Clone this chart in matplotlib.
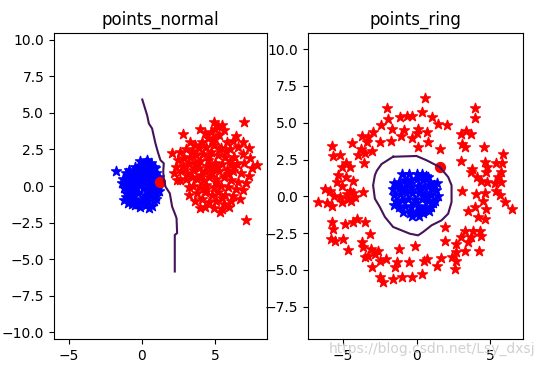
#svm decision boundary plots
import numpy as np
import matplotlib.pyplot as plt

#points_normal data
blue_normal_x = [-1.79, 0.37, 0.2, 0.5, -0.1, 0.8, 0.93, -0.5, -0.89, -0.3, 0.1, 0.6, 1.0, -1.1, -0.7, -0.2, 0.3,
                 0.75, 1.15, -1.3, -0.9, -0.5, 0.0, 0.45, 0.9, 1.27, -1.34, -1.0, -0.6, -0.2, 0.2, 0.6, 1.1, -1.25,
                 -0.85, -0.4, 0.05, 0.4, 0.85, 1.2, -1.1, -0.7, -0.25, 0.2, 0.6, 1.0, -1.23, -0.9, -0.45, 0.0, 0.4,
                 0.85, -0.7, -0.2, 0.25, 0.48, 0.7, -0.1, -0.95, 0.1, -0.55, 0.3, -0.15, 0.6, 1.05, -1.05,
                 -0.62, 0.14, 0.72, -0.33, 0.52, -0.78, 0.97, -1.16, 0.27, -0.46, 0.83, -0.05, -0.92, 0.41]
blue_normal_y = [1.04, 1.77, 1.6, 1.5, 1.4, 1.3, 1.2, 1.3, 1.09, 1.1, 1.2, 1.0, 0.9, 0.9, 0.8, 0.85, 0.8,
                 0.7, 0.6, 0.5, 0.5, 0.55, 0.5, 0.45, 0.35, 0.29, 0.2, 0.15, 0.2, 0.15, 0.2, 0.1, 0.0, -0.15,
                 -0.2, -0.1, -0.15, -0.25, -0.3, -0.35, -0.5, -0.55, -0.5, -0.6, -0.65, -0.7, -0.95, -0.85, -0.9, -0.95, -1.0,
                 -1.05, -1.2, -1.25, -1.3, -1.52, -1.35, -1.45, -1.15, -1.0, -0.35, 0.55, 1.7, 1.55, -0.2, -0.75,
                 0.97, 0.93, 0.42, 0.33, -0.43, -0.02, -0.88, 0.31, -0.82, -1.32, 0.64, 0.12, 0.71, 1.12]

red_normal_x = [7.0, 4.91, 5.2, 3.96, 2.82, 4.7, 5.3, 4.5, 5.0, 5.8, 6.2, 4.1, 3.6, 7.14, 3.21, 5.93, 4.34, 5.37,
                7.87, 2.18, 2.37, 2.07, 2.6, 3.0, 3.4, 3.9, 4.4, 4.9, 5.4, 6.0, 6.6, 7.3, 6.9, 2.5, 2.9, 3.3, 3.7,
                4.2, 4.7, 5.2, 5.7, 6.3, 7.4, 7.0, 2.3, 2.8, 3.2, 3.6, 4.0, 4.5, 5.0, 5.5, 6.0, 6.5, 7.5, 2.7, 3.1,
                3.5, 3.9, 4.3, 4.8, 5.3, 5.8, 6.2, 6.8, 7.3, 2.6, 3.0, 3.4, 3.8, 4.2, 4.6, 5.1, 5.6, 6.1, 6.6, 7.1,
                3.5, 4.0, 4.4, 4.9, 5.4, 5.9, 6.4, 6.9, 3.8, 4.3, 4.8, 5.2, 5.7, 6.2, 3.6, 4.1, 4.6, 5.1, 5.6, 6.1,
                4.9, 5.5, 3.2, 6.7, 4.0, 5.0, 5.6, 4.3, 6.4, 6.9, 3.3, 5.5, 4.8, 5.3, 4.5, 6.3, 5.9,
                4.62, 5.15, 4.05, 5.72, 4.38, 5.04, 3.74, 6.08, 4.77, 5.46]
red_normal_y = [4.38, 4.38, 4.1, 3.93, 3.54, 3.7, 3.5, 3.3, 3.2, 3.0, 3.1, 3.0, 2.8, -2.32, -0.07, -1.41, -1.41, -1.75,
                1.43, 0.86, 0.41, 2.23, 2.3, 2.5, 2.4, 2.6, 2.7, 2.8, 2.6, 2.5, 2.7, 2.6, 2.2, 1.8, 1.9, 2.0, 2.1,
                2.2, 2.3, 2.1, 2.0, 2.0, 1.9, 1.6, 1.3, 1.4, 1.5, 1.6, 1.7, 1.8, 1.6, 1.5, 1.7, 1.5, 1.2, 1.0, 0.9,
                1.1, 1.2, 1.0, 1.2, 1.0, 1.1, 1.0, 0.9, 0.7, 0.4, 0.5, 0.6, 0.5, 0.4, 0.6, 0.5, 0.6, 0.4, 0.3, 0.2,
                0.0, -0.1, 0.1, -0.05, 0.0, -0.1, -0.2, -0.3, -0.5, -0.4, -0.6, -0.4, -0.6, -0.7, -1.0, -0.9, -1.1, -1.0, -1.2, -1.0,
                -1.5, -1.6, -0.6, -0.9, -1.5, 3.9, 3.8, 3.6, 3.4, 3.0, 3.0, 4.2, 0.9, 2.5, 1.4, 1.3, 0.8,
                2.02, 1.33, 0.78, 2.36, -0.22, 0.28, 1.42, 1.52, 3.05, -0.85]

#decision boundary for points_normal
line_normal_x = [0.03, 0.36, 0.48, 0.7, 0.93, 1.1, 1.27, 1.5, 1.46, 1.5, 1.62, 1.91, 2.07, 2.3, 2.37, 2.41, 2.25, 2.25, 2.25]
line_normal_y = [5.91, 4.84, 4.27, 3.93, 2.91, 2.3, 1.77, 1.55, 0.98, 0.5, -0.05, -0.5, -1.41, -2.0, -2.2, -3.22, -3.34, -4.93, -5.84]
new_normal = [1.27, 0.29]

#points_ring data
blue_ring_x = [-1.02, -0.5, 0.0, 0.4, 0.8, -1.5, -1.2, -0.8, -0.4, 0.0, 0.45, 0.9, 1.2, -1.6, -1.2, -0.8, -0.35, 0.1,
               0.5, 0.95, 1.35, -1.5, -1.1, -0.7, -0.3, 0.15, 0.6, 1.0, 1.45, -1.4, -1.0, -0.55, -0.1, 0.35, 0.8,
               1.25, -1.2, -0.8, -0.35, 0.1, 0.55, 1.0, -0.9, -0.45, 0.0, 0.45, 0.85, -0.3, 0.2, 1.4, -1.5, 0.65,
               -0.62, 0.27, 0.78, -0.18, 0.52, -0.95, 1.12, 0.33, -0.42, 0.93]
blue_ring_y = [1.54, 1.5, 1.55, 1.5, 1.3, 0.9, 1.0, 1.1, 1.1, 1.15, 1.1, 1.0, 0.8, 0.5, 0.55, 0.6, 0.65, 0.7,
               0.6, 0.55, 0.45, 0.1, 0.15, 0.2, 0.2, 0.25, 0.15, 0.1, 0.0, -0.3, -0.25, -0.2, -0.25, -0.2, -0.3,
               -0.35, -0.7, -0.65, -0.7, -0.65, -0.75, -0.7, -1.05, -1.1, -1.1, -1.15, -1.0, -1.35, -1.35, 0.9, -0.6, 1.35,
               0.88, 0.43, -0.05, -0.48, -0.95, 0.38, -0.48, -0.92, 0.41, 0.77]

red_ring_x = [0.57, -2.01, 4.0, 3.96, 0.34, -1.92, -1.09, -0.68, -0.34, 1.02, 1.43, 2.1, -2.42, -2.94, -1.7, -0.84,
              0.11, 0.68, 0.0, -1.06, -0.34, 0.75, 0.07, -1.74, -2.49, -3.28, -3.73, -3.39, -4.37, -3.8, -3.0, -3.5,
              -3.96, -5.77, -5.2, -5.66, -4.8, -4.52, -5.05, -3.55, -5.32, -4.82, -4.3, -5.43, -5.09, -6.22, -5.86,
              -4.52, -4.75, -4.3, -3.62, -5.59, -5.2, -4.64, -4.19, -6.72, -6.11, -5.77, -5.09, -4.46,
              3.05, 3.39, 3.69, 3.1, 3.28, 4.59, 1.58, 3.05, 5.88, 4.68, 4.8, 4.73, 3.78, 3.73, 5.43, 5.79, 5.72,
              5.57, 5.72, 4.14, 4.41, 4.82, 5.32, 3.1, 5.43, 5.66, 4.07, 4.64, 6.04, 6.49, 4.52, 3.96, 4.75, 4.19,
              4.64, 3.51, 3.85, 4.3, 4.41, 3.28, 3.05, 2.71, 3.69, 3.51, 1.92, 1.92, 3.28, 4.27, 2.65, 2.4, 1.65,
              2.67, 2.6, 1.36, 0.68, 0.52, -0.11, -0.52, 0.34, -0.34, -0.97, -1.58, -1.47, -1.36, -1.18, -2.49,
              -2.26, -3.05, -2.49, -2.1, -2.6, -2.83, -3.51, -3.28, -3.73, -3.62, -3.1, -3.17, -3.51, -4.3, -4.07,
              -4.86, -4.64, -4.98, -5.54, -5.77, -5.66, -5.81]
red_ring_y = [6.67, 6.0, 6.0, 5.32, 5.75, 5.25, 5.36, 5.45, 5.48, 5.36, 4.91, 4.86, 4.84, 4.39, 4.57, 4.5,
              4.57, 4.34, 4.28, 4.12, 3.96, 3.67, 3.33, 3.78, 3.67, 4.0, 4.12, 3.67, 3.6, 3.21, 3.1, 2.92,
              2.83, 3.39, 2.83, 2.76, 2.26, 1.97, 1.97, 2.26, 1.47, 1.29, 1.06, 0.95, 0.72, 0.5, 0.34,
              0.38, 0.16, 0.2, 0.27, 0.05, -0.07, -0.18, -0.07, -0.41, -0.48, -0.63, -0.41, -0.29,
              4.23, 4.46, 4.23, 3.54, 3.37, 3.37, 3.21, 2.38, 2.87, 2.31, 1.97, 1.63, 1.86, 1.63, 2.24, 2.29, 1.63,
              1.29, 0.95, 1.29, 1.06, 0.95, 0.88, 0.38, 0.34, 0.11, 0.16, 0.2, -0.36, -0.86, -0.29, -0.75, -0.86, -1.38,
              -1.54, -0.97, -2.33, -2.33, -2.67, -2.33, -2.78, -3.24, -2.78, -3.12, -2.1, -3.01, -3.69, -3.73, -3.8, -4.14, -4.19,
              -4.41, -4.93, -4.71, -4.25, -4.37, -3.35, -4.48, -5.27, -5.5, -5.5, -5.61, -4.82, -4.48, -3.57, -5.5,
              -5.84, -4.82, -4.37, -4.25, -3.73, -3.91, -4.14, -4.03, -3.12, -3.46, -3.57, -2.56, -1.76, -1.76, -1.54,
              -1.88, -3.64, -2.9, -3.01, -1.76, -2.22, -2.9]

#decision boundary for points_ring (closed)
line_ring_x = [-1.59, 0.0, 0.68, 1.58, 2.15, 2.38, 2.38, 2.15, 1.7, 1.02, 0.45, 0.11, -0.45, -1.59, -2.15,
               -2.49, -2.83, -2.95, -2.83, -2.7, -2.38, -1.59]
line_ring_y = [2.69, 2.74, 2.45, 1.99, 1.31, 0.75, -0.39, -1.18, -1.63, -1.97, -2.42, -2.65, -2.54, -2.08, -1.4,
               -0.73, -0.16, 0.75, 1.43, 1.74, 2.19, 2.69]
new_ring = [1.6, 2.0]

fig = plt.figure(figsize=(5.44, 3.74), dpi=100)

#left plot
ax1 = fig.add_axes([0.0993, 0.0936, 0.3915, 0.818])
ax1.scatter(blue_normal_x, blue_normal_y, c='blue', marker='*', s=55)
ax1.scatter(red_normal_x, red_normal_y, c='red', marker='*', s=55)
ax1.plot(line_normal_x, line_normal_y, color='#45135a', linewidth=1.5)
ax1.scatter(new_normal[0], new_normal[1], c='red', marker='o', s=50)
ax1.set_xlim(-6.0, 8.55)
ax1.set_ylim(-10.45, 10.45)
ax1.set_xticks([-5, 0, 5])
ax1.set_yticks([-10, -7.5, -5, -2.5, 0, 2.5, 5, 7.5, 10])
ax1.set_title("points_normal", fontsize=12)

#right plot
ax2 = fig.add_axes([0.566, 0.0936, 0.395, 0.818])
ax2.scatter(red_ring_x, red_ring_y, c='red', marker='*', s=55)
ax2.scatter(blue_ring_x, blue_ring_y, c='blue', marker='*', s=55)
ax2.plot(line_ring_x, line_ring_y, color='#45135a', linewidth=1.5)
ax2.scatter(new_ring[0], new_ring[1], c='red', marker='o', s=50)
ax2.set_xlim(-7.38, 7.22)
ax2.set_ylim(-9.69, 11.09)
ax2.set_xticks([-5, 0, 5])
ax2.set_yticks([-7.5, -5, -2.5, 0, 2.5, 5, 7.5, 10])
ax2.set_title("points_ring", fontsize=12)

#watermark (overlaps the ticks in the original too)
fig.text(0.985, 0.068, "https://blog.csdn.net/Lsy_dxsj", ha='right', va='center',
         fontsize=10, color='#c8c8c8', alpha=0.85)

plt.savefig("out.png", dpi=100)
